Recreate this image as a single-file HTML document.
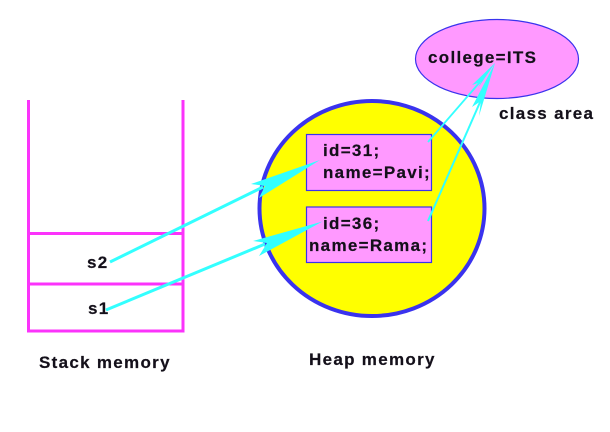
<!DOCTYPE html>
<html>
<head>
<meta charset="utf-8">
<style>
html,body{margin:0;padding:0;background:#fff;width:610px;height:432px;overflow:hidden}
svg{display:block}
text{font-family:"Liberation Sans",sans-serif;font-weight:bold;font-size:17px;letter-spacing:1.3px;fill:#14101a;stroke:#14101a;stroke-width:0.2px}
</style>
</head>
<body>
<svg width="610" height="432" viewBox="0 0 610 432" xmlns="http://www.w3.org/2000/svg">
  <rect width="610" height="432" fill="#fff"/>
  <!-- stack -->
  <g fill="none" stroke="#fb33fb" stroke-width="3">
    <path d="M28.500 100V331H183V100"/>
    <path d="M28.500 233.500H183"/>
    <path d="M28.500 284H183"/>
  </g>
  <!-- heap -->
  <ellipse cx="372" cy="208.500" rx="112.500" ry="107.500" fill="#ffff00" stroke="#3a33ee" stroke-width="4"/>
  <rect x="306.500" y="134.500" width="125" height="56" fill="#ff99ff" stroke="#3a33ee" stroke-width="1.200"/>
  <rect x="306.500" y="207" width="125" height="55.500" fill="#ff99ff" stroke="#3a33ee" stroke-width="1.200"/>
  <!-- class area -->
  <ellipse cx="497" cy="59" rx="81.500" ry="39.500" fill="#ff99ff" stroke="#3a33ee" stroke-width="1.200"/>
  <!-- labels -->
  <text x="323" y="156">id=31;</text>
  <text x="323" y="178">name=Pavi;</text>
  <text x="323" y="229">id=36;</text>
  <text x="309" y="251">name=Rama;</text>
  <text x="428" y="63">college=ITS</text>
  <text x="499" y="119">class area</text>
  <text x="87" y="268">s2</text>
  <text x="88" y="314">s1</text>
  <text x="39" y="368">Stack memory</text>
  <text x="309" y="365">Heap memory</text>
  <!-- arrows -->
  <g stroke="#33ffff" fill="#33ffff">
    <path d="M110 262L263 187" stroke-width="3" fill="none"/>
    <path d="M320 160L251 184L265 186L259 198Z" stroke="none"/>
    <path d="M106 310L265 244" stroke-width="3" fill="none"/>
    <path d="M322.500 221.500L253 241L267 243L259 256Z" stroke="none"/>
    <path d="M428 142L480 82" stroke-width="1.800" fill="none"/>
    <path d="M495 63L472 85L481 82L478 88Z" stroke="none"/>
    <path d="M428 221L481 100" stroke-width="2" fill="none"/>
    <path d="M495 63L472 107L481 101L479 116Z" stroke="none"/>
  </g>
</svg>
</body>
</html>
